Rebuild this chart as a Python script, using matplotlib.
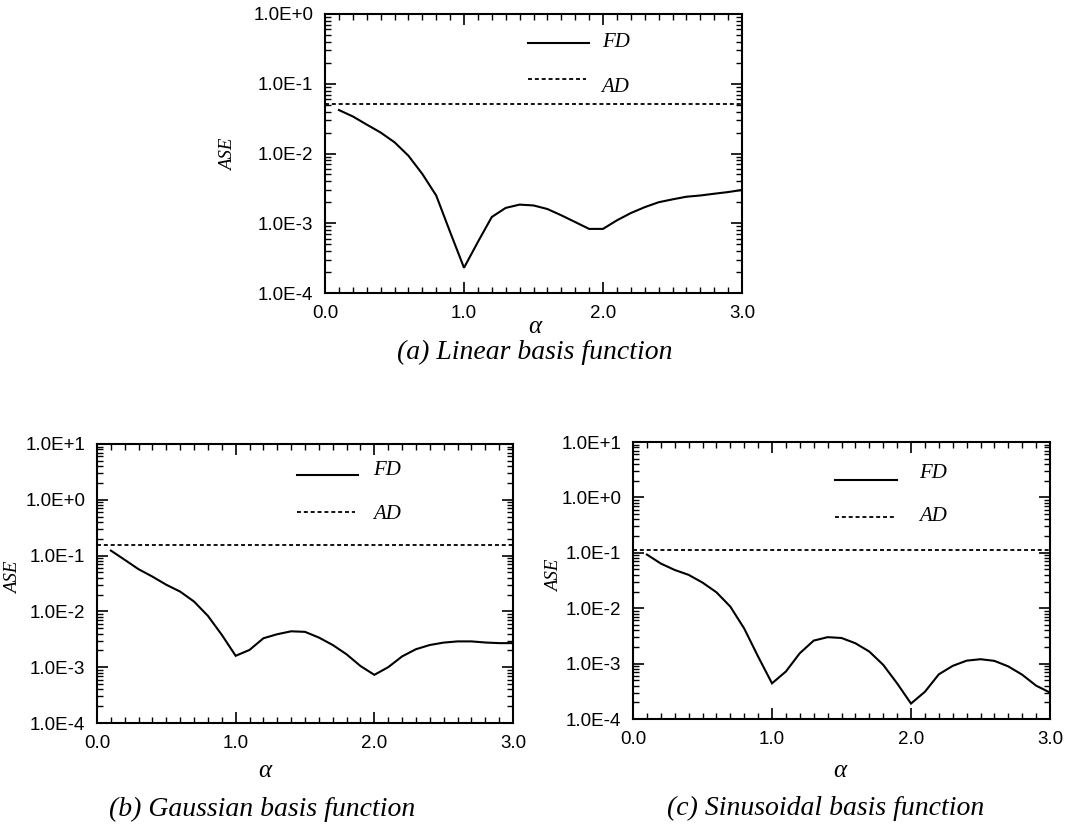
import matplotlib
matplotlib.use("Agg")
import matplotlib.pyplot as plt
from matplotlib.ticker import FixedLocator, FixedFormatter, LogLocator, NullFormatter, MultipleLocator

# ---- data -------------------------------------------------------------
alpha = [0.1, 0.2, 0.3, 0.4, 0.5, 0.6, 0.7, 0.8, 0.9, 1.0,
         1.1, 1.2, 1.3, 1.4, 1.5, 1.6, 1.7, 1.8, 1.9, 2.0,
         2.1, 2.2, 2.3, 2.4, 2.5, 2.6, 2.7, 2.8, 2.9, 3.0]

# (a) linear basis function
fd_linear = [0.042, 0.034, 0.026, 0.020, 0.0145, 0.0093, 0.0051, 0.0025, 7.5e-4, 2.3e-4,
             5.4e-4, 1.23e-3, 1.66e-3, 1.85e-3, 1.8e-3, 1.6e-3, 1.3e-3, 1.04e-3, 8.3e-4, 8.3e-4,
             1.1e-3, 1.4e-3, 1.7e-3, 2.0e-3, 2.2e-3, 2.4e-3, 2.5e-3, 2.65e-3, 2.8e-3, 3.0e-3]
ad_linear = 0.052

# (b) Gaussian basis function
fd_gauss = [0.123, 0.084, 0.057, 0.042, 0.030, 0.0226, 0.015, 0.0083, 0.0038, 0.0016,
            0.00204, 0.0033, 0.0039, 0.0044, 0.0043, 0.0034, 0.0025, 0.0017, 0.00105, 0.00073,
            0.0010, 0.00156, 0.0021, 0.0025, 0.00276, 0.0029, 0.0029, 0.00277, 0.0027, 0.0027]
ad_gauss = 0.155

# (c) sinusoidal basis function
fd_sinus = [0.093, 0.064, 0.049, 0.040, 0.029, 0.0194, 0.0107, 0.0043, 0.00134, 0.00044,
            0.00072, 0.00154, 0.0026, 0.0030, 0.0029, 0.00233, 0.00165, 0.00095, 0.00044, 0.00019,
            0.00031, 0.00064, 0.00091, 0.00113, 0.0012, 0.00112, 0.00089, 0.00063, 0.0004, 0.0003]
ad_sinus = 0.113

x_ticks = [0.0, 1.0, 2.0, 3.0]
x_ticklabels = ["0.0", "1.0", "2.0", "3.0"]
y_ticks_a = [1e-4, 1e-3, 1e-2, 1e-1, 1e0]
y_ticklabels_a = ["1.0E-4", "1.0E-3", "1.0E-2", "1.0E-1", "1.0E+0"]
y_ticks_bc = [1e-4, 1e-3, 1e-2, 1e-1, 1e0, 1e1]
y_ticklabels_bc = ["1.0E-4", "1.0E-3", "1.0E-2", "1.0E-1", "1.0E+0", "1.0E+1"]

captions = ["(a) Linear basis function",
            "(b) Gaussian basis function",
            "(c) Sinusoidal basis function"]

# ---- styling ----------------------------------------------------------
SANS = "Liberation Sans"
SERIF = "Liberation Serif"
ad_style = (0, (2.2, 1.6))
W, H = 1067.0, 836.0

fig = plt.figure(figsize=(W / 100, H / 100), dpi=100)


def px(x, y):
    """Pixel position (from top-left) to figure fraction."""
    return x / W, 1 - y / H


def rect(l, t, r, b):
    return [l / W, 1 - b / H, (r - l) / W, (b - t) / H]


def make_panel(box, fd, ad, yticks, ylabels, caption, legend_pos,
               alpha_xy, ase_xy, cap_xy):
    ax = fig.add_axes(rect(*box))
    ax.set_yscale("log")
    ax.set_xlim(0.0, 3.0)
    ax.set_ylim(yticks[0], yticks[-1])

    ax.plot(alpha, fd, color="black", lw=1.5, solid_joinstyle="miter")
    ax.plot([0.0, 3.0], [ad, ad], color="black", lw=1.3, linestyle=ad_style)

    # legend drawn by hand inside the axes
    (x0, x1, xt, y_fd, y_fd_t, y_ad, y_ad_t) = legend_pos
    ax.plot([x0, x1], [y_fd, y_fd], color="black", lw=1.5)
    ax.plot([x0, x1 - 0.02], [y_ad, y_ad], color="black", lw=1.3, linestyle=ad_style)
    ax.text(xt, y_fd_t, "FD", family=SERIF, style="italic", fontsize=15, va="center", ha="left")
    ax.text(xt, y_ad_t, "AD", family=SERIF, style="italic", fontsize=15, va="center", ha="left")

    # ticks
    ax.xaxis.set_major_locator(FixedLocator(x_ticks))
    ax.xaxis.set_major_formatter(FixedFormatter(x_ticklabels))
    ax.xaxis.set_minor_locator(MultipleLocator(0.1))
    ax.yaxis.set_major_locator(FixedLocator(yticks))
    ax.yaxis.set_major_formatter(FixedFormatter(ylabels))
    ax.yaxis.set_minor_locator(LogLocator(base=10, subs=range(2, 10), numticks=20))
    ax.yaxis.set_minor_formatter(NullFormatter())
    ax.tick_params(which="both", direction="in", top=True, right=True, color="black")
    ax.tick_params(which="major", length=8, width=1.2, pad=8.5, labelsize=13.5)
    ax.tick_params(which="minor", length=4, width=1.0)
    for lab in ax.get_xticklabels() + ax.get_yticklabels():
        lab.set_family(SANS)
    for sp in ax.spines.values():
        sp.set_linewidth(1.5)

    # axis titles and caption
    fig.text(*px(*alpha_xy), "α", family=SERIF, style="italic",
             fontsize=18, ha="center", va="center")
    fig.text(*px(*ase_xy), "ASE", family=SERIF, style="italic",
             fontsize=13.5, ha="center", va="center", rotation=90)
    fig.text(*px(*cap_xy), caption, family=SERIF, style="italic",
             fontsize=20, ha="center", va="center")
    return ax


make_panel((325, 14, 742, 293), fd_linear, ad_linear, y_ticks_a, y_ticklabels_a,
           captions[0],
           (1.46, 1.90, 1.99, 10 ** -0.41, 10 ** -0.41, 10 ** -0.936, 10 ** -1.06),
           alpha_xy=(535, 327), ase_xy=(229, 155), cap_xy=(535, 352))
make_panel((97, 444, 513, 723), fd_gauss, ad_gauss, y_ticks_bc, y_ticklabels_bc,
           captions[1],
           (1.44, 1.88, 1.99, 10 ** 0.444, 10 ** 0.534, 10 ** -0.224, 10 ** -0.27),
           alpha_xy=(265, 771), ase_xy=(14, 578), cap_xy=(262, 809))
make_panel((633, 442, 1050, 719), fd_sinus, ad_sinus, y_ticks_bc, y_ticklabels_bc,
           captions[2],
           (1.45, 1.90, 2.06, 10 ** 0.314, 10 ** 0.44, 10 ** -0.348, 10 ** -0.348),
           alpha_xy=(840, 771), ase_xy=(555, 576), cap_xy=(826, 808))

fig.savefig("out.png", dpi=100, facecolor="white")
